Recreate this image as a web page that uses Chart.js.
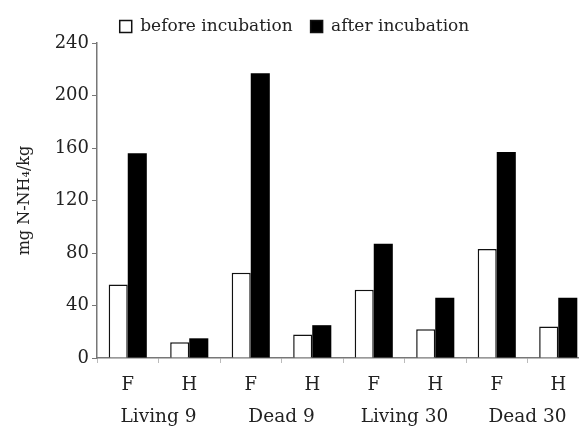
<!DOCTYPE html>
<html>
<head>
  <title>N-NH4 before and after incubation</title>
  <script src="https://cdn.jsdelivr.net/npm/chart.js"></script>
  <style>
    html, body { margin: 0; padding: 0; background: #fff; overflow: hidden; }
    #wrap { width: 592px; height: 426px; }
  </style>
</head>
<body>
  <div id="wrap"><canvas id="chart"></canvas></div>
  <script>
    const soils = ['F', 'H', 'F', 'H', 'F', 'H', 'F', 'H'];
    const groups = ['Living 9', 'Dead 9', 'Living 30', 'Dead 30'];
    const before = [56, 12, 65, 18, 52, 22, 83, 24];
    const after = [156, 15, 217, 25, 87, 46, 157, 46];
    const yTicks = [0, 40, 80, 120, 160, 200, 240];

    const serif = 'DejaVu Serif';
    const ink = '#222';

    new Chart(document.getElementById('chart'), {
      type: 'bar',
      data: {
        labels: soils,
        datasets: [
          { label: 'before incubation', data: before, backgroundColor: '#fff', borderColor: '#111', borderWidth: 1.5, xAxisID: 'x' },
          { label: 'after incubation', data: after, backgroundColor: '#000', borderColor: '#000', borderWidth: 0, xAxisID: 'x' }
        ]
      },
      options: {
        responsive: true,
        maintainAspectRatio: false,
        animation: false,
        layout: { padding: { top: 0, right: 3, left: 0, bottom: 0 } },
        datasets: { bar: { barPercentage: 1, categoryPercentage: 0.62 } },
        plugins: {
          tooltip: { enabled: false },
          legend: {
            display: true,
            position: 'top',
            maxHeight: 43,
            labels: {
              color: ink,
              font: { family: serif, size: 17 },
              boxWidth: 12,
              boxHeight: 12,
              padding: 18,
              generateLabels: chart => chart.data.datasets.map((d, i) => ({
                text: d.label,
                fillStyle: d.backgroundColor,
                strokeStyle: '#111',
                lineWidth: 1.5,
                fontColor: ink,
                datasetIndex: i
              }))
            }
          }
        },
        scales: {
          y: {
            min: 0,
            max: 240,
            afterFit: s => { s.width = 97; },
            afterBuildTicks: s => { s.ticks = yTicks.map(v => ({ value: v })); },
            border: { display: true, color: '#777', width: 1.5 },
            grid: { drawOnChartArea: false, drawTicks: true, tickLength: 5, color: '#777' },
            ticks: { color: ink, font: { family: serif, size: 18 }, padding: 3 },
            title: { display: true, text: 'mg N-NH\u2084/kg', color: ink, font: { family: serif, size: 16 }, padding: { top: 15, bottom: 4 } }
          },
          x: {
            position: 'bottom',
            afterFit: s => { s.height = 42; },
            border: { display: true, color: '#777', width: 1.5 },
            grid: { drawOnChartArea: false, drawTicks: true, tickLength: 5, color: '#bbb', offset: true },
            ticks: { color: ink, font: { family: serif, size: 18 }, padding: 12 }
          },
          x2: {
            type: 'category',
            position: 'bottom',
            labels: groups,
            offset: true,
            afterFit: s => { s.height = 26; },
            border: { display: false },
            grid: { display: false, drawTicks: false },
            ticks: { color: ink, font: { family: serif, size: 18.5 }, padding: 6 }
          }
        }
      }
    });
  </script>
</body>
</html>
